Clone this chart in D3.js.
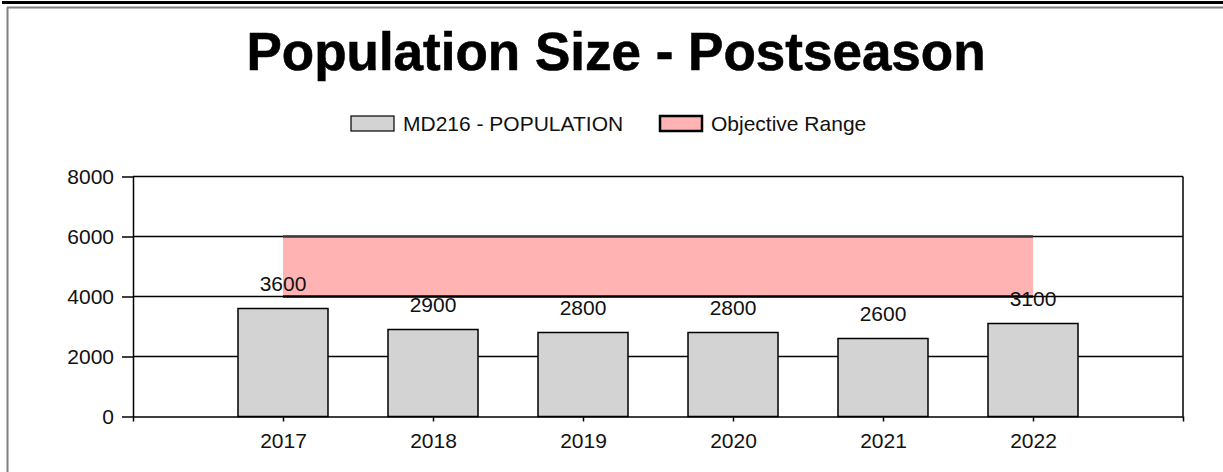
<!DOCTYPE html>
<html>
<head>
<meta charset="utf-8">
<script src="https://cdn.jsdelivr.net/npm/d3@7"></script>
<style>
  body { margin: 0; background: #fff; }
  text { font-family: "Liberation Sans", Arial, sans-serif; }
</style>
</head>
<body>
<svg id="svg" width="1223" height="472"></svg>
<script>
// chart data
const years = ["2017", "2018", "2019", "2020", "2021", "2022"];
const population = [3600, 2900, 2800, 2800, 2600, 3100];
const objectiveLow = [4000, 4000, 4000, 4000, 4000, 4000];
const objectiveHigh = [6000, 6000, 6000, 6000, 6000, 6000];
const yTicks = [0, 2000, 4000, 6000, 8000];

const svg = d3.select("#svg");

// page frame (report border)
svg.append("rect").attr("x", 2).attr("y", 1).attr("width", 1221).attr("height", 3).attr("fill", "#000");
svg.append("line").attr("x1", 7).attr("x2", 1223).attr("y1", 7.5).attr("y2", 7.5).attr("stroke", "#808080").attr("stroke-width", 2);
svg.append("line").attr("x1", 7.5).attr("x2", 7.5).attr("y1", 7).attr("y2", 472).attr("stroke", "#808080").attr("stroke-width", 2);

// title
svg.append("text").attr("x", 616).attr("y", 70).attr("text-anchor", "middle")
   .attr("font-size", 53).attr("font-weight", "bold").attr("stroke", "#000").attr("stroke-width", 0.6)
   .text("Population Size - Postseason");

// scales
const plotLeft = 133, plotRight = 1183, plotTop = 176.5, plotBottom = 416.5;
const x = d3.scaleLinear().domain([0, years.length + 1]).range([plotLeft, plotRight]);
const y = d3.scaleLinear().domain([0, 8000]).range([plotBottom, plotTop]);
const barW = 90;

// grid lines
svg.append("g").selectAll("line").data(yTicks.slice(1)).join("line")
   .attr("x1", plotLeft).attr("x2", plotRight)
   .attr("y1", d => y(d)).attr("y2", d => y(d))
   .attr("stroke", "#000").attr("stroke-width", 1.5);
// right border
svg.append("line").attr("x1", plotRight).attr("x2", plotRight).attr("y1", plotTop).attr("y2", plotBottom)
   .attr("stroke", "#000").attr("stroke-width", 1.5);

// objective range area
const idx = years.map((d, i) => i);
const area = d3.area().x(i => x(i + 1)).y0(i => y(objectiveLow[i])).y1(i => y(objectiveHigh[i]));
svg.append("path").attr("d", area(idx)).attr("fill", "#ffb3b3");
svg.append("path").attr("d", d3.line().x(i => x(i + 1)).y(i => y(objectiveHigh[i]))(idx))
   .attr("fill", "none").attr("stroke", "#3a3a3a").attr("stroke-width", 2.5);
svg.append("path").attr("d", d3.line().x(i => x(i + 1)).y(i => y(objectiveLow[i]))(idx))
   .attr("fill", "none").attr("stroke", "#000").attr("stroke-width", 2.5);

// bars
svg.append("g").selectAll("rect").data(population).join("rect")
   .attr("x", (d, i) => x(i + 1) - barW / 2)
   .attr("y", d => y(d))
   .attr("width", barW)
   .attr("height", d => plotBottom - y(d))
   .attr("fill", "#d3d3d3").attr("stroke", "#000").attr("stroke-width", 1.5);

// data labels
svg.append("g").selectAll("text").data(population).join("text")
   .attr("x", (d, i) => x(i + 1))
   .attr("y", d => y(d) - 18)
   .attr("text-anchor", "middle").attr("font-size", 21).attr("fill", "#111")
   .text(d => d);

// axes
const yAxis = svg.append("g").attr("transform", `translate(${plotLeft},0)`)
   .call(d3.axisLeft(y).tickValues(yTicks).tickFormat(d3.format("d"))
   .tickSize(11).tickSizeOuter(0).tickPadding(8));
const xAxis = svg.append("g").attr("transform", `translate(0,${plotBottom})`)
   .call(d3.axisBottom(x).tickValues(idx.map(i => i + 1)).tickFormat(v => years[v - 1])
   .tickSize(5).tickSizeOuter(5).tickPadding(12));
[yAxis, xAxis].forEach(g => {
  g.selectAll("path, line").attr("stroke", "#000").attr("stroke-width", 1.5);
  g.selectAll("text").attr("font-size", 21).attr("fill", "#111")
   .attr("font-family", "'Liberation Sans', Arial, sans-serif");
});

// legend
const legend = svg.append("g");
legend.append("rect").attr("x", 351).attr("y", 116).attr("width", 43).attr("height", 15)
   .attr("fill", "#d3d3d3").attr("stroke", "#000").attr("stroke-width", 1.2);
legend.append("text").attr("x", 403).attr("y", 131).attr("font-size", 21).attr("fill", "#111")
   .text("MD216 - POPULATION");
legend.append("rect").attr("x", 660).attr("y", 116).attr("width", 42).attr("height", 15)
   .attr("fill", "#ffb3b3").attr("stroke", "#000").attr("stroke-width", 2.5);
legend.append("text").attr("x", 711).attr("y", 131).attr("font-size", 21).attr("fill", "#111")
   .text("Objective Range");
</script>
</body>
</html>
